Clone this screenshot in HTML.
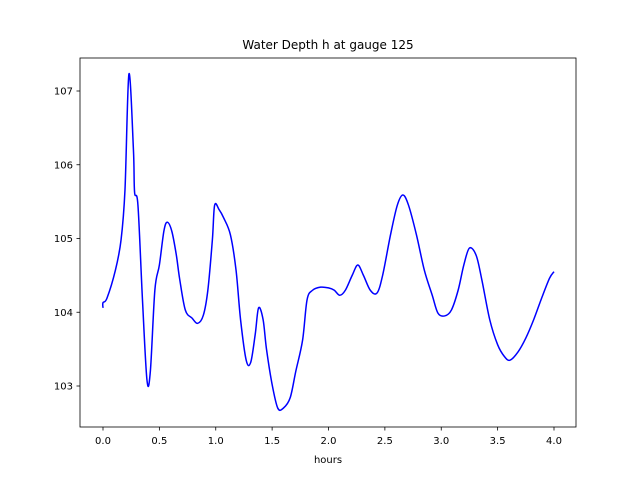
<!DOCTYPE html>
<html><head><meta charset="utf-8"><style>
body{margin:0;background:#fff}
svg text{font-family:"DejaVu Sans","Liberation Sans",sans-serif;font-size:10px;fill:#000}
</style></head><body>
<svg width="640" height="480">
<rect x="0" y="0" width="640" height="480" fill="#fff"/>
<text x="328" y="49" text-anchor="middle" style="font-size:12px">Water Depth h at gauge 125</text>
<g id="ticks"></g>
<path id="line" fill="none" stroke="#0000ff" stroke-width="1.5" stroke-linejoin="round"/>
<rect x="80" y="58" width="496" height="369" fill="none" stroke="#000" stroke-width="0.8"/>
<text x="328" y="463" text-anchor="middle">hours</text>
</svg>
<script>
const xTicks=[0,0.5,1,1.5,2,2.5,3,3.5,4];
const xTickLabels=["0.0","0.5","1.0","1.5","2.0","2.5","3.0","3.5","4.0"];
const yTicks=[103,104,105,106,107];
const hours=[0,0,0.035,0.11,0.16,0.195,0.23,0.27,0.28,0.31,0.35,0.39,0.42,0.46,0.5,0.54,0.57,0.61,0.65,0.68,0.73,0.79,0.84,0.89,0.93,0.97,0.99,1.03,1.07,1.13,1.18,1.22,1.27,1.31,1.35,1.38,1.42,1.45,1.5,1.55,1.6,1.66,1.71,1.77,1.81,1.86,1.93,2.0,2.05,2.1,2.15,2.21,2.26,2.31,2.37,2.43,2.48,2.55,2.61,2.66,2.71,2.78,2.85,2.92,2.97,3.03,3.09,3.15,3.2,3.25,3.31,3.36,3.43,3.5,3.56,3.61,3.68,3.75,3.82,3.89,3.96,4.0];
const depth=[104.06,104.13,104.19,104.57,104.98,105.66,107.23,106.2,105.63,105.45,104.17,103.08,103.2,104.3,104.64,105.1,105.22,105.1,104.78,104.45,104.03,103.92,103.85,103.96,104.3,104.98,105.45,105.39,105.28,105.05,104.57,103.9,103.35,103.32,103.7,104.06,103.9,103.5,103.02,102.7,102.7,102.84,103.2,103.62,104.17,104.3,104.34,104.33,104.3,104.23,104.3,104.5,104.64,104.5,104.3,104.26,104.5,105.05,105.45,105.59,105.45,105.05,104.57,104.23,103.99,103.95,104.03,104.3,104.64,104.87,104.77,104.44,103.9,103.56,103.4,103.35,103.46,103.65,103.9,104.19,104.46,104.55];
const xs=v=>103+v*112.75, ys=v=>91+(107-v)*73.75;
const NS="http://www.w3.org/2000/svg", g=document.getElementById('ticks');
xTicks.forEach((t,i)=>{
 const l=document.createElementNS(NS,'line');
 
 
 l.setAttribute('x1',xs(t));l.setAttribute('x2',xs(t));l.setAttribute('y1',427);l.setAttribute('y2',430.5);l.setAttribute('stroke','#000');l.setAttribute('stroke-width','0.8');g.appendChild(l);
 const tx=document.createElementNS(NS,'text');
 
 
 tx.setAttribute('x',xs(t));tx.setAttribute('y',444);tx.setAttribute('text-anchor','middle');tx.textContent=xTickLabels[i];g.appendChild(tx);
});
yTicks.forEach(t=>{
 const l=document.createElementNS(NS,'line');
 
 
 l.setAttribute('x1',76.5);l.setAttribute('x2',80);l.setAttribute('y1',ys(t));l.setAttribute('y2',ys(t));l.setAttribute('stroke','#000');l.setAttribute('stroke-width','0.8');g.appendChild(l);
 const tx=document.createElementNS(NS,'text');
 
 
 tx.setAttribute('x',73);tx.setAttribute('y',ys(t)+3.5);tx.setAttribute('text-anchor','end');tx.textContent=String(t);g.appendChild(tx);
});
const P=hours.map((h,i)=>[xs(h),ys(depth[i])]);
let d='M'+P[0][0]+','+P[0][1];
for(let i=0;i<P.length-1;i++){
 const p0=P[Math.max(0,i-1)],p1=P[i],p2=P[i+1],p3=P[Math.min(P.length-1,i+2)];
 const c1=[p1[0]+(p2[0]-p0[0])/6,p1[1]+(p2[1]-p0[1])/6];
 const c2=[p2[0]-(p3[0]-p1[0])/6,p2[1]-(p3[1]-p1[1])/6];
 d+=' C'+c1[0]+','+c1[1]+' '+c2[0]+','+c2[1]+' '+p2[0]+','+p2[1];
}
document.getElementById('line').setAttribute('d',d);
</script>
</body></html>
